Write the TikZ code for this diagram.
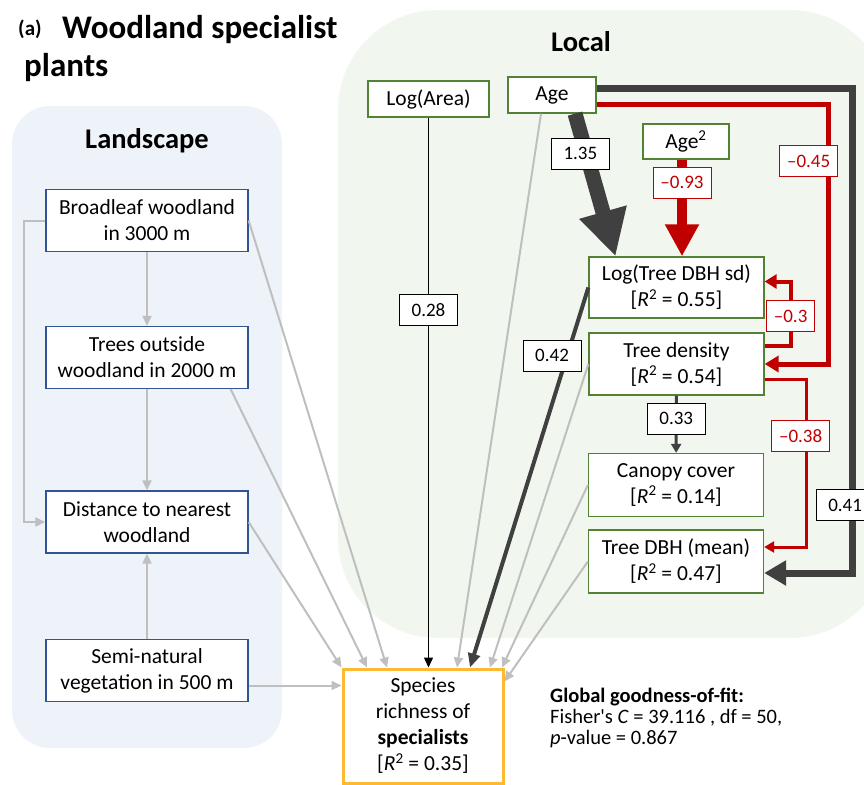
\documentclass[tikz,border=0pt]{standalone}
\usepackage{fontspec}
\setmainfont{Carlito}
\usetikzlibrary{arrows.meta}

\definecolor{landfill}{HTML}{EEF2F9}
\definecolor{localfill}{HTML}{F1F7EE}
\definecolor{landedge}{HTML}{2F5597}
\definecolor{localedge}{HTML}{548235}
\definecolor{sporange}{HTML}{FFB833}
\definecolor{negred}{HTML}{C00000}
\definecolor{dark}{HTML}{404040}
\definecolor{pale}{HTML}{BFBFBF}

\newcommand{\rsq}[1]{[\textit{R}\textsuperscript{2} = #1]}

\tikzset{
  boxtext/.style={font=\fontsize{21.5}{26}\selectfont, align=center, inner sep=0pt, fill=white, line width=1.3pt},
  landbox/.style={boxtext, draw=landedge, minimum width=202pt, minimum height=62pt},
  localbox/.style={boxtext, draw=localedge, minimum width=175pt, minimum height=62pt},
  coef/.style={draw=black, text=black, fill=white, line width=0.8pt, font=\fontsize{19}{22}\selectfont, minimum width=58pt, minimum height=31pt, inner sep=0pt},
  negcoef/.style={coef, draw=negred, text=negred},
  weak/.style={draw=pale, line width=2pt, -{Triangle[length=10pt,width=9pt]}},
  headline/.style={font=\bfseries\fontsize{28.5}{32}\selectfont, inner sep=0pt, anchor=base}
}

\begin{document}
\begin{tikzpicture}[x=1pt, y=-1pt]
\useasboundingbox (0,0) rectangle (864,784);
\clip (0,0) rectangle (864,784);

% panels
\fill[landfill, rounded corners=38pt] (12,106) rectangle (282,748);
\fill[localfill, rounded corners=100pt] (338,10) rectangle (890,638);

% titles
\node[anchor=base west, inner sep=0pt, font=\bfseries\fontsize{21}{24}\selectfont] (tag) at (18,36) {(a)};
\node[anchor=base west, inner sep=0pt, font=\bfseries\fontsize{33}{38}\selectfont] (title) at (62,38) {Woodland specialist};
\node[anchor=base west, inner sep=0pt, font=\bfseries\fontsize{33}{38}\selectfont] (title2) at (24,76) {plants};
\node[headline] (landhead) at (147,148) {Landscape};
\node[headline] (localhead) at (581,52) {Local};

% landscape nodes
\node[landbox] (broad) at (147,220.5) {Broadleaf woodland\\in 3000 m};
\node[landbox] (trees) at (147,357.5) {Trees outside\\woodland in 2000 m};
\node[landbox] (dist) at (147,522) {Distance to nearest\\woodland};
\node[landbox] (semi) at (147,670.5) {Semi-natural\\vegetation in 500 m};

% local nodes
\node[localbox, minimum width=121pt, minimum height=36pt] (logarea) at (428.5,99) {Log(Area)};
\node[localbox, minimum width=88pt, minimum height=36pt] (age) at (552,95) {Age};
\node[localbox, minimum width=86pt, minimum height=35pt] (agesq) at (686,141.5) {Age\textsuperscript{2}};
\node[localbox, minimum height=61pt] (logsd) at (676.5,287.5) {Log(Tree DBH sd)\\\rsq{0.55}};
\node[localbox] (dens) at (676.5,364) {Tree density\\\rsq{0.54}};
\node[localbox, minimum height=63pt] (canopy) at (676,485) {Canopy cover\\\rsq{0.14}};
\node[localbox, minimum height=63pt] (dbhmean) at (676,561.5) {Tree DBH (mean)\\\rsq{0.47}};

% response
\node[boxtext, draw=sporange, line width=3pt, minimum width=160pt, minimum height=114pt] (species) at (423,726)
  {Species\\richness of\\\textbf{specialists}\\\rsq{0.35}};

\node[anchor=north west, align=left, inner sep=0pt, font=\fontsize{20.5}{21}\selectfont] (gof) at (550,688)
  {\textbf{Global goodness-of-fit:}\\Fisher\textquotesingle s \textit{C} = 39.116 , df = 50,\\\textit{p}-value = 0.867};

% landscape links
\draw[weak] (broad) -- (trees);
\draw[weak] (trees) -- (dist);
\draw[weak] (semi) -- (dist);
\draw[weak] (broad.west) -- ++(-21,0) |- (dist.west);
\draw[weak] (broad.east) -- ([xshift=-36]species.north);
\draw[weak] ([xshift=-18]trees.south east) -- ([xshift=-56]species.north);
\draw[weak] (dist.east) -- (species.north west);
\draw[weak] ([yshift=-15]semi.east) coordinate (semiout) -- (semiout -| species.west);

% local links, non-significant
\draw[weak] ([xshift=-11]age.south) -- ([xshift=34]species.north);
\draw[weak] (dens.west) -- ([xshift=67]species.north);
\draw[weak] (canopy.west) -- ([xshift=79]species.north);
\draw[weak] (dbhmean.west) -- ([yshift=-14]species.north east);

% significant paths
\draw[black, line width=1.5pt, -{Triangle[length=10pt,width=9pt]}] (logarea) -- (logarea |- species.north)
  node[coef, pos=0.35] (c028) {0.28};
\draw[dark, line width=15pt, -{Triangle[length=46pt,width=46pt]}] ([xshift=23]age.south) -- ([xshift=-61]logsd.north)
  node[coef, pos=0.28, xshift=-6] (c135) {1.35};
\draw[negred, line width=10pt, -{Triangle[length=32pt,width=32pt]}] ([xshift=-4]agesq.south) coordinate (sqout) -- (sqout |- logsd.north)
  node[negcoef, pos=0.24] (c093) {–0.93};
\draw[dark, line width=7pt, -{Triangle[length=22pt,width=24pt]}] ([yshift=7]age.east) -| ([xshift=88,yshift=-11.5]dbhmean.east)
  node[coef, pos=0.93, xshift=-7] (c041) {0.41} -- ([yshift=-11.5]dbhmean.east);
\draw[negred, line width=5pt, -{Triangle[length=14pt,width=16pt]}] ([yshift=-9]age.east) -| ([xshift=64]dens.east)
  node[negcoef, pos=0.61, xshift=-20] (c045) {–0.45} -- (dens.east);
\draw[negred, line width=4pt, -{Triangle[length=12pt,width=14pt]}] ([yshift=18]dens.east) -- ++(26,0) |- ([yshift=6]logsd.east)
  node[negcoef, pos=0.23, minimum width=48pt] (c03) {–0.3};
\draw[negred, line width=3pt, -{Triangle[length=10pt,width=11pt]}] ([yshift=-15]dens.east) -- ++(42,0) |- ([yshift=14.5]dbhmean.east)
  node[negcoef, pos=0.17, xshift=-6] (c038) {–0.38};
\draw[dark, line width=3pt, -{Triangle[length=9pt,width=10pt]}] (dens) -- (canopy)
  node[coef, pos=0.4] (c033) {0.33};
\draw[dark, line width=4pt, -{Triangle[length=14pt,width=12pt]}] (logsd.west) -- ([xshift=47]species.north)
  node[coef, pos=0.18, xshift=-15] (c042) {0.42};

\end{tikzpicture}
\end{document}
